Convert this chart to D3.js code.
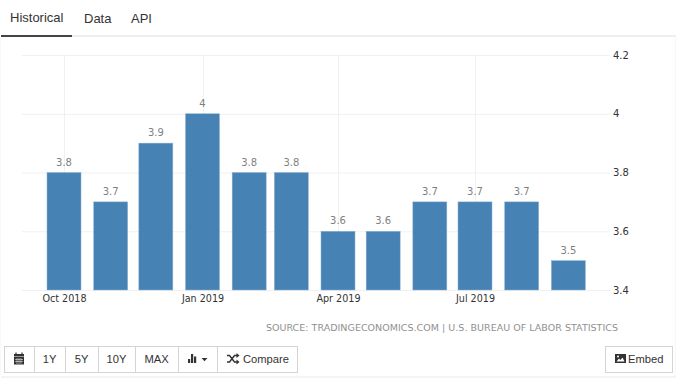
<!DOCTYPE html>
<html>
<head>
<meta charset="utf-8">
<script src="https://cdn.jsdelivr.net/npm/d3@7"></script>
<style>
  html, body { margin: 0; padding: 0; background: #fff; overflow: hidden; }
  svg { display: block; }
  text { font-family: "DejaVu Sans", sans-serif; }
  .ui text { font-family: "Liberation Sans", sans-serif; }
</style>
</head>
<body>
<div id="container"></div>
<script>
/* CONSTANTS AND GLOBALS */
const width = 680, height = 385;
const yTop = 55, yBottom = 290, gridLeft = 22, gridRight = 610;
const barWidth = 34;

/* DATA */
const months = ["2018-10-01", "2018-11-01", "2018-12-01", "2019-01-01", "2019-02-01", "2019-03-01",
  "2019-04-01", "2019-05-01", "2019-06-01", "2019-07-01", "2019-08-01", "2019-09-01"];
const values = [3.8, 3.7, 3.9, 4, 3.8, 3.8, 3.6, 3.6, 3.7, 3.7, 3.7, 3.5];
const xTickDates = ["2018-10-01", "2019-01-01", "2019-04-01", "2019-07-01"];
const yTicks = [3.4, 3.6, 3.8, 4, 4.2];
const tabs = ["Historical", "Data", "API"];
const rangeButtons = ["1Y", "5Y", "10Y", "MAX"];
const sourceText = "SOURCE: TRADINGECONOMICS.COM | U.S. BUREAU OF LABOR STATISTICS";

const parseDate = d3.utcParse("%Y-%m-%d");
const data = months.map((m, i) => ({date: parseDate(m), value: values[i]}));

// SCALES
const xScale = d3.scaleUtc()
  .domain([parseDate("2018-10-01"), parseDate("2019-07-01")])
  .range([64, 475]);

const yScale = d3.scaleLinear()
  .domain([3.4, 4.2])
  .range([yBottom, yTop]);

// CREATE SVG ELEMENT
const svg = d3.select("#container")
  .append("svg")
  .attr("width", width)
  .attr("height", height);

// Grid lines
svg.append("g").selectAll("line")
  .data(yTicks)
  .join("line")
  .attr("x1", gridLeft)
  .attr("x2", gridRight)
  .attr("y1", d => yScale(d) + 0.5)
  .attr("y2", d => yScale(d) + 0.5)
  .attr("stroke", "#f0f0f0");

svg.append("g").selectAll("line")
  .data(xTickDates.map(parseDate))
  .join("line")
  .attr("x1", d => Math.round(xScale(d)) + 0.5)
  .attr("x2", d => Math.round(xScale(d)) + 0.5)
  .attr("y1", yTop)
  .attr("y2", yBottom)
  .attr("stroke", "#f0f0f0");

// Bars
svg.append("g").selectAll("rect")
  .data(data)
  .join("rect")
  .attr("x", d => xScale(d.date) - barWidth / 2)
  .attr("y", d => yScale(d.value))
  .attr("width", barWidth)
  .attr("height", d => yBottom - yScale(d.value))
  .attr("fill", "#4682b4")
  .attr("stroke", "#8fb3d1")
  .attr("stroke-width", 0.5);

// Bar labels
svg.append("g").selectAll("text")
  .data(data)
  .join("text")
  .attr("x", d => xScale(d.date))
  .attr("y", d => yScale(d.value) - 7)
  .attr("text-anchor", "middle")
  .attr("font-size", 10)
  .attr("fill", "#7f7f7f")
  .text(d => d.value);

// Add the x-axis
const xAxis = svg.append("g")
  .attr("transform", `translate(0,${yBottom})`)
  .call(d3.axisBottom(xScale)
    .tickValues(xTickDates.map(parseDate))
    .tickFormat(d3.utcFormat("%b %Y"))
    .tickSize(0)
    .tickPadding(5));
xAxis.select(".domain").remove();
xAxis.selectAll("text")
  .style("font-family", "DejaVu Sans")
  .style("font-size", "9.6px")
  .attr("fill", "#333");

// Add the y-axis
const yAxis = svg.append("g")
  .attr("transform", `translate(613,0)`)
  .call(d3.axisRight(yScale)
    .tickValues(yTicks)
    .tickFormat(d => d)
    .tickSize(0)
    .tickPadding(0));
yAxis.select(".domain").remove();
yAxis.selectAll("text")
  .style("font-family", "DejaVu Sans")
  .style("font-size", "10px")
  .attr("fill", "#333");

// Source line
svg.append("text")
  .attr("x", 618)
  .attr("y", 331)
  .attr("text-anchor", "end")
  .attr("font-size", 9.5)
  .attr("letter-spacing", 0.03)
  .attr("fill", "#909090")
  .text(sourceText);

// TABS AND TOOLBAR
const ui = svg.append("g").attr("class", "ui");

ui.append("rect").attr("x", 1).attr("y", 35).attr("width", 675).attr("height", 2).attr("fill", "#eeeeee");
ui.append("rect").attr("x", 1).attr("y", 35).attr("width", 71).attr("height", 2).attr("fill", "#444");
ui.append("rect").attr("x", 1).attr("y", 376).attr("width", 675).attr("height", 2).attr("fill", "#f4f4f4");
ui.append("rect").attr("x", 675).attr("y", 37).attr("width", 1).attr("height", 339).attr("fill", "#f7f7f7");
ui.append("rect").attr("x", 0).attr("y", 37).attr("width", 1).attr("height", 339).attr("fill", "#f9f9f9");

const tabX = [10, 84, 131];
ui.selectAll("text.tab")
  .data(tabs)
  .join("text")
  .attr("class", "tab")
  .attr("x", (d, i) => tabX[i])
  .attr("y", (d, i) => i === 0 ? 22 : 23)
  .attr("font-size", 13)
  .attr("fill", "#333")
  .text(d => d);

function button(x0, x1) {
  ui.append("rect")
    .attr("x", x0 + 0.5).attr("y", 346.5)
    .attr("width", x1 - x0).attr("height", 26)
    .attr("fill", "#fff")
    .attr("stroke", "#d4d4d4");
}

function label(x, txt, anchor) {
  ui.append("text")
    .attr("x", x).attr("y", 363)
    .attr("text-anchor", anchor || "middle")
    .attr("font-size", 11.2)
    .attr("fill", "#333")
    .text(txt);
}

const buttonEdges = [4, 34, 65, 98, 135, 178, 217, 297];
buttonEdges.slice(0, -1).forEach((x, i) => button(x, buttonEdges[i + 1]));
rangeButtons.forEach((t, i) => label((buttonEdges[i + 1] + buttonEdges[i + 2]) / 2, t));
label(243, "Compare", "start");

button(605, 672);
label(628, "Embed", "start");

// calendar icon
ui.append("rect").attr("x", 14).attr("y", 354).attr("width", 10).attr("height", 2.5).attr("fill", "#333");
ui.append("rect").attr("x", 14).attr("y", 357).attr("width", 10).attr("height", 7.5).attr("fill", "#333");
ui.append("path").attr("d", "M16 352.5v2M22 352.5v2").attr("stroke", "#333").attr("stroke-width", 1.2);
ui.append("path").attr("d", "M15 359.5h8M15 361.5h8M17 358v6M19 358v6M21 358v6").attr("stroke", "#fff").attr("stroke-width", 0.5);

// chart type icon
ui.append("path").attr("d", "M188 363v-4h2.2v4zM191 363v-9h2.2v9zM194 363v-6.5h2.2v6.5z").attr("fill", "#333");
ui.append("path").attr("d", "M201.5 358h6l-3 3.2z").attr("fill", "#333");

// compare icon
ui.append("path")
  .attr("d", "M227 355.5h2.5l5 6.5h2.5M227 362h2.5l5 -6.5h2.5")
  .attr("fill", "none").attr("stroke", "#333").attr("stroke-width", 1.4);
ui.append("path").attr("d", "M236.5 353l3 2.5l-3 2.5zM236.5 359.5l3 2.5l-3 2.5z").attr("fill", "#333");

// picture icon
ui.append("rect").attr("x", 615).attr("y", 354).attr("width", 11).attr("height", 9).attr("fill", "#333");
ui.append("path").attr("d", "M616.5 361.5l2.5 -3l1.5 1.5l2 -2.5l2 4z").attr("fill", "#fff");
ui.append("circle").attr("cx", 618).attr("cy", 356.5).attr("r", 1).attr("fill", "#fff");
</script>
</body>
</html>
